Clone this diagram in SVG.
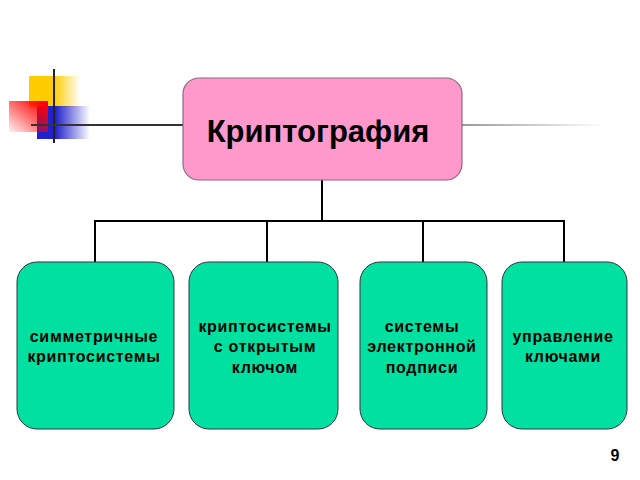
<svg xmlns="http://www.w3.org/2000/svg" width="640" height="480" viewBox="0 0 640 480">
<defs>
<linearGradient id="gy" x1="0" y1="0" x2="1" y2="0"><stop offset="0.5" stop-color="#FFCC00"/><stop offset="1" stop-color="#FFCC00" stop-opacity="0.05"/></linearGradient>
<linearGradient id="gb" x1="0" y1="0" x2="1" y2="0"><stop offset="0.35" stop-color="#2222CC"/><stop offset="1" stop-color="#2222CC" stop-opacity="0"/></linearGradient>
<linearGradient id="gr" x1="1" y1="0" x2="0" y2="1"><stop offset="0.1" stop-color="#FF0000"/><stop offset="1" stop-color="#FF0000" stop-opacity="0.05"/></linearGradient>
<linearGradient id="gl" x1="0" y1="0" x2="1" y2="0"><stop offset="0" stop-color="#999"/><stop offset="1" stop-color="#999" stop-opacity="0"/></linearGradient>
</defs>
<style>
.leaf{fill:#00E0A0;stroke:#334;stroke-width:1}
.t{font-family:"Liberation Sans",Arial,sans-serif;font-weight:bold;fill:#000;text-anchor:middle}
.s{font-size:16px;letter-spacing:0.7px}
.c{stroke:#000;stroke-width:2;fill:none}
</style>
<g id="decor">
<rect x="29" y="76" width="50" height="31" fill="url(#gy)"/>
<rect x="37" y="106" width="53" height="33" fill="url(#gb)"/>
<rect x="9" y="101" width="39" height="31" fill="url(#gr)"/>
<line x1="54" y1="69" x2="54" y2="143" stroke="#222" stroke-width="2"/>
<line x1="31" y1="125" x2="184" y2="125" stroke="#333" stroke-width="2"/>
<rect x="462" y="124" width="144" height="2" fill="url(#gl)"/>
</g>
<g id="connectors">
<path class="c" d="M322 180V221M95 262V221H564V262M267 221V262M423 221V262"/>
</g>
<g id="root">
<rect x="183" y="78" width="279" height="102" rx="16" fill="#FF99CC" stroke="#8A6A80" stroke-width="1.2"/>
<text class="t" x="318" y="142" font-size="31">Криптография</text>
</g>
<g id="n1">
<rect class="leaf" x="17" y="262" width="157" height="167" rx="20"/>
<text class="t s" x="94" y="342">симметричные</text>
<text class="t s" x="94" y="362">криптосистемы</text>
</g>
<g id="n2">
<rect class="leaf" x="189" y="262" width="149" height="167" rx="20"/>
<text class="t s" x="265" y="332">криптосистемы</text>
<text class="t s" x="265" y="352">с открытым</text>
<text class="t s" x="265" y="373">ключом</text>
</g>
<g id="n3">
<rect class="leaf" x="360" y="262" width="127" height="167" rx="20"/>
<text class="t s" x="422" y="332">системы</text>
<text class="t s" x="422" y="352">электронной</text>
<text class="t s" x="422" y="373">подписи</text>
</g>
<g id="n4">
<rect class="leaf" x="502" y="262" width="125" height="167" rx="20"/>
<text class="t s" x="563" y="342">управление</text>
<text class="t s" x="563" y="362">ключами</text>
</g>
<text class="t" x="615" y="461" font-size="16">9</text>
</svg>
